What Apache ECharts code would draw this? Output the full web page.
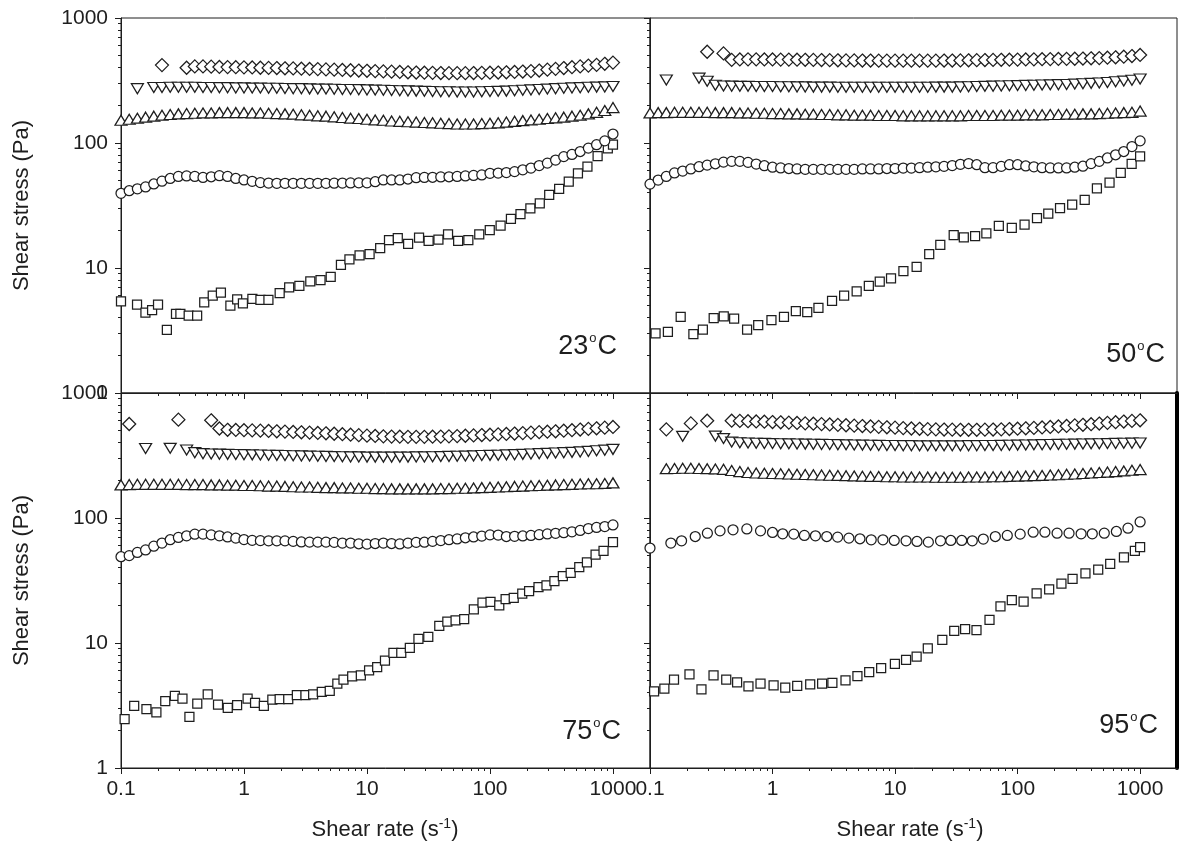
<!DOCTYPE html>
<html>
<head>
<meta charset="utf-8">
<title>Shear stress vs shear rate</title>
<script src="https://cdn.jsdelivr.net/npm/echarts@6/dist/echarts.min.js"></script>
<style>
  html, body { margin: 0; padding: 0; background: #fff; }
  #chart { width: 1182px; height: 843px; }
</style>
</head>
<body>
<div id="chart"></div>
<script>
// Shear rates of the regular sweep (15 points per decade, s^-1)
const rate = [
  0.1, 0.1166, 0.1359, 0.1585, 0.1848, 0.2154, 0.2512, 0.2929, 0.3415, 0.3981, 0.4642, 0.5412, 0.631, 0.7356, 0.8577,
  1, 1.166, 1.359, 1.585, 1.848, 2.154, 2.512, 2.929, 3.415, 3.981, 4.642, 5.412, 6.31, 7.356, 8.577,
  10, 11.66, 13.59, 15.85, 18.48, 21.54, 25.12, 29.29, 34.15, 39.81, 46.42, 54.12, 63.1, 73.56, 85.77,
  100, 116.6, 135.9, 158.5, 184.8, 215.4, 251.2, 292.9, 341.5, 398.1, 464.2, 541.2, 631, 735.6, 857.7,
  1000
];

const panelLabels = ['23', '50', '75', '95'];
const xTickLabels = [0.1, 1, 10, 100, 1000];
const yTickLabels = [1, 10, 100, 1000];
const xMinorTicks = [0.2, 0.3, 0.4, 0.5, 0.6, 0.7, 0.8, 0.9, 2, 3, 4, 5, 6, 7, 8, 9,
  20, 30, 40, 50, 60, 70, 80, 90, 200, 300, 400, 500, 600, 700, 800, 900];
const yMinorTicks = [2, 3, 4, 5, 6, 7, 8, 9, 20, 30, 40, 50, 60, 70, 80, 90,
  200, 300, 400, 500, 600, 700, 800, 900];

// ---- 23 °C (shear stress, Pa, on the regular sweep) ----
const diamond23 = [
  null, null, null, null, null, 420, null, null, 400, 410, 410, 408, 406, 405, 404,
  403, 402, 400, 399, 398, 396, 395, 393, 391, 390, 388, 386, 384, 382, 380,
  378, 376, 374, 372, 370, 368, 366, 365, 364, 363, 362, 362, 362, 363, 364,
  365, 366, 368, 370, 373, 376, 380, 386, 392, 398, 404, 410, 416, 422, 430,
  440];
const downTri23 = [
  null, null, 272, null, 278, 278, 279, 279, 279, 279, 278, 278, 277, 277, 276,
  276, 275, 275, 274, 274, 273, 272, 272, 271, 270, 270, 269, 268, 268, 267,
  266, 265, 264, 263, 262, 261, 260, 259, 258, 257, 257, 256, 256, 256, 257,
  258, 259, 260, 262, 264, 266, 268, 270, 272, 274, 276, 277, 279, 280, 281,
  283];
const upTri23 = [
  152, 155, 158, 161, 164, 167, 169, 171, 172, 173, 174, 174, 175, 175, 175,
  175, 174, 174, 173, 172, 171, 170, 168, 167, 165, 164, 162, 160, 158, 157,
  155, 153, 152, 150, 149, 148, 147, 146, 145, 144, 143, 142, 142, 142, 143,
  144, 145, 147, 149, 151, 153, 155, 157, 159, 161, 164, 167, 171, 176, 182,
  192];
const circle23 = [
  39.6, 41.5, 43, 44.5, 47, 49.5, 52, 54, 54.5, 54, 53, 53.7, 54.8, 54, 52,
  50.6, 49.4, 48.2, 47.8, 47.6, 47.6, 47.6, 47.6, 47.6, 47.6, 47.6, 47.7, 47.8, 47.9, 48,
  48, 49, 50.6, 50.6, 50.6, 51.5, 52.8, 53, 53.2, 53.5, 53.7, 54, 54.5, 55, 55.5,
  57.2, 57.5, 58, 59, 61, 63, 66, 69, 73, 77.8, 81, 85.5, 91, 97, 104,
  118];
// [shear rate, shear stress]
const square23 = [
  [0.1, 5.4], [0.135, 5.1], [0.158, 4.4], [0.179, 4.6], [0.2, 5.1], [0.236, 3.2], [0.28, 4.3],
  [0.304, 4.3], [0.355, 4.15], [0.416, 4.15], [0.475, 5.3], [0.557, 6.0], [0.649, 6.35], [0.775, 5.0],
  [0.88, 5.6], [0.98, 5.2], [1.17, 5.65], [1.36, 5.55], [1.58, 5.55], [1.95, 6.3], [2.33, 7.0],
  [2.82, 7.2], [3.46, 7.8], [4.19, 8.0], [5.07, 8.5], [6.14, 10.6], [7.2, 11.7], [8.7, 12.6],
  [10.5, 12.9], [12.8, 14.4], [15.1, 16.7], [17.8, 17.3], [21.6, 15.6], [26.5, 17.5], [31.7, 16.5],
  [38.1, 16.9], [45.6, 18.6], [55.1, 16.5], [66.7, 16.7], [81.8, 18.6], [99.6, 20.1], [122, 21.8],
  [148, 24.7], [177, 27], [213, 30], [254, 32.9], [303, 38.4], [365, 42.9], [437, 49.1],
  [519, 57.2], [620, 64.7], [750, 78.7], [908, 90.6], [1000, 97]];

// ---- 50 °C ----
const diamond50 = [
  null, null, null, null, null, null, null, 537, null, 521, 462, 466, 467, 467, 466,
  466, 465, 465, 464, 463, 462, 461, 460, 459, 458, 458, 457, 457, 456, 456,
  456, 456, 456, 456, 456, 456, 457, 457, 458, 459, 460, 461, 462, 463, 464,
  465, 466, 467, 468, 469, 470, 471, 472, 474, 476, 478, 481, 485, 490, 496,
  506];
const downTri50 = [
  null, null, 319, null, null, null, 330, 312, 290, 286, 285, 284, 284, 283, 283,
  283, 282, 282, 281, 281, 280, 280, 280, 279, 279, 279, 279, 279, 279, 279,
  279, 279, 279, 279, 279, 280, 280, 280, 281, 282, 283, 284, 285, 286, 287,
  288, 289, 290, 291, 292, 293, 294, 296, 298, 300, 302, 305, 309, 313, 318,
  325];
const upTri50 = [
  174, 175, 175, 176, 176, 176, 176, 176, 175, 175, 175, 174, 174, 173, 173,
  172, 172, 171, 171, 170, 170, 169, 169, 168, 168, 167, 167, 167, 166, 166,
  166, 165, 165, 165, 165, 165, 165, 165, 165, 166, 166, 166, 166, 167, 167,
  167, 168, 168, 168, 169, 169, 170, 170, 171, 171, 172, 173, 174, 175, 176,
  180];
const circle50 = [
  46.9, 50.5, 54, 57.6, 59.6, 62, 64.6, 66.5, 68.2, 70.3, 71.3, 71.3, 70, 67.8, 65.8,
  64, 63.2, 62.5, 62, 61.5, 61.5, 61.5, 61.5, 61.5, 61.5, 61.5, 62, 62, 62, 62.5,
  62.5, 63, 63, 63.5, 64, 64.5, 65, 66, 67.5, 68.5, 67, 63.5, 63.5, 65, 67,
  67, 65.5, 64.5, 63.5, 63.2, 63.2, 63.2, 64, 65.2, 68.4, 71.3, 75.9, 80.5, 85.5, 93.6,
  104];
const square50 = [
  [0.111, 3.0], [0.14, 3.09], [0.178, 4.06], [0.226, 2.96], [0.27, 3.22], [0.331, 3.98], [0.4, 4.1],
  [0.486, 3.93], [0.62, 3.22], [0.764, 3.49], [0.98, 3.82], [1.24, 4.06], [1.55, 4.52], [1.92, 4.44],
  [2.37, 4.8], [3.06, 5.47], [3.84, 6.0], [4.86, 6.49], [6.11, 7.19], [7.5, 7.79], [9.27, 8.26],
  [11.7, 9.45], [15, 10.2], [19, 12.9], [23.4, 15.3], [30.1, 18.3], [36.4, 17.6], [45, 18],
  [55.6, 18.9], [70.3, 21.7], [89.7, 20.9], [114, 22.2], [144, 25.1], [178, 27.2], [222, 30.1],
  [279, 32.2], [353, 35], [444, 43.3], [563, 48.2], [695, 57.8], [853, 68.1], [1000, 78.1]];

// ---- 75 °C ----
const diamond75 = [
  null, 565, null, null, null, null, null, 612, null, null, null, 605, 520, 508, 506,
  504, 502, 500, 497, 494, 491, 488, 485, 482, 479, 476, 472, 468, 464, 460,
  456, 453, 450, 448, 447, 446, 446, 446, 447, 448, 450, 452, 455, 458, 461,
  464, 467, 470, 474, 478, 482, 486, 490, 494, 499, 504, 510, 516, 522, 528,
  535];
const downTri75 = [
  null, null, null, 360, null, null, 361, null, 350, 333, 327, 325, 324, 323, 322,
  321, 320, 319, 318, 317, 316, 315, 314, 313, 312, 311, 310, 309, 308, 308,
  307, 307, 307, 307, 307, 307, 308, 308, 309, 310, 311, 312, 313, 314, 316,
  317, 318, 320, 321, 323, 325, 327, 329, 331, 333, 335, 338, 341, 345, 349,
  354];
const upTri75 = [
  184, 185, 186, 186, 186, 186, 186, 186, 185, 185, 185, 184, 184, 183, 183,
  182, 182, 181, 180, 180, 179, 178, 177, 177, 176, 175, 175, 174, 174, 173,
  173, 172, 172, 171, 171, 171, 171, 171, 171, 172, 172, 173, 173, 174, 175,
  176, 177, 178, 179, 180, 181, 182, 183, 184, 185, 186, 187, 188, 188, 189,
  191];
const circle75 = [
  49, 50, 53, 55.5, 59.5, 63, 67, 69.9, 72, 74.2, 74.3, 73.3, 72, 70.5, 69,
  67.2, 66.2, 65.9, 65.7, 65.7, 65.6, 65, 64.3, 64.1, 64.1, 64.1, 63.8, 63, 63, 62.2,
  61.8, 62.5, 63, 62.5, 62, 63, 63.8, 64, 65, 66, 67, 68, 69.5, 70.5, 71.7,
  73.3, 73, 71.1, 71.4, 71.8, 72.5, 73.5, 74.6, 75.4, 76.3, 77.5, 79.5, 82.3, 84, 85.4,
  88];
const square75 = [
  [0.107, 2.46], [0.128, 3.14], [0.161, 2.96], [0.194, 2.78], [0.229, 3.42], [0.274, 3.77],
  [0.316, 3.59], [0.36, 2.57], [0.417, 3.28], [0.507, 3.89], [0.615, 3.22], [0.738, 3.03],
  [0.879, 3.18], [1.07, 3.59], [1.23, 3.32], [1.45, 3.14], [1.7, 3.53], [1.95, 3.55], [2.29, 3.55],
  [2.69, 3.82], [3.16, 3.82], [3.65, 3.89], [4.29, 4.06], [4.98, 4.14], [5.74, 4.73], [6.44, 5.09],
  [7.58, 5.41], [8.91, 5.51], [10.4, 6.03], [12.1, 6.41], [14, 7.24], [16.4, 8.33], [19, 8.33],
  [22.3, 9.13], [26.2, 10.8], [31.5, 11.2], [38.7, 13.7], [45, 14.8], [52.5, 15.2], [61.7, 15.5],
  [73.9, 18.6], [86.9, 21], [101, 21.3], [119, 20], [134, 22.4], [156, 23], [183, 24.8], [208, 26],
  [248, 28], [288, 28.9], [334, 31.3], [391, 34.2], [453, 36.4], [532, 40.4], [614, 44.2],
  [722, 50.9], [838, 54.7], [1000, 64.1]];

// ---- 95 °C ----
const diamond95 = [
  null, null, 512, null, null, 571, null, 600, null, null, 600, 598, 595, 592, 589,
  586, 583, 580, 576, 572, 568, 564, 560, 556, 552, 548, 544, 540, 536, 532,
  528, 524, 520, 517, 514, 512, 510, 509, 508, 508, 508, 509, 510, 512, 515,
  518, 522, 526, 530, 535, 540, 545, 551, 557, 563, 570, 577, 584, 591, 598,
  605];
const downTri95 = [
  null, null, null, null, 450, null, null, null, 452, 432, 405, 400, 398, 396, 395,
  394, 393, 392, 391, 390, 389, 388, 387, 386, 385, 384, 383, 382, 381, 380,
  380, 379, 379, 378, 378, 378, 378, 378, 378, 379, 379, 380, 380, 381, 382,
  383, 384, 385, 386, 387, 388, 389, 390, 391, 392, 393, 394, 395, 396, 397,
  398];
const upTri95 = [
  null, null, 248, 249, 250, 250, 249, 248, 247, 245, 240, 235, 231, 229, 228,
  227, 226, 225, 224, 223, 222, 221, 220, 219, 218, 217, 216, 215, 215, 214,
  214, 213, 213, 213, 213, 212, 212, 212, 212, 213, 213, 213, 214, 214, 215,
  216, 217, 218, 219, 221, 222, 224, 225, 227, 229, 231, 233, 235, 238, 241,
  244];
const circle95 = [
  [0.1, 57.5], [0.148, 63], [0.181, 65.7], [0.234, 71.1], [0.294, 75.6], [0.373, 78.9],
  [0.476, 80.4], [0.617, 81.8], [0.798, 78.9], [1.0, 76.6], [1.21, 74.7], [1.49, 74.3],
  [1.82, 72.5], [2.24, 72], [2.77, 71.1], [3.4, 70.3], [4.2, 69], [5.17, 68.2], [6.39, 66.9],
  [7.96, 66.9], [9.85, 66.1], [12.3, 65.7], [15.1, 64.9], [18.7, 64.1], [23.5, 65.7], [28.5, 66.1],
  [35, 66.1], [42.7, 65.7], [52.5, 67.8], [65.8, 71.1], [82.4, 72.5], [105, 74.3], [134, 77],
  [167, 77], [210, 75.6], [263, 75.6], [330, 74.7], [407, 74.7], [510, 75.6], [640, 78],
  [796, 82.9], [1000, 93]];
const square95 = [
  [0.108, 4.11], [0.131, 4.32], [0.157, 5.09], [0.21, 5.61], [0.263, 4.26], [0.33, 5.51],
  [0.419, 5.09], [0.514, 4.84], [0.636, 4.5], [0.798, 4.73], [1.02, 4.59], [1.27, 4.39],
  [1.59, 4.53], [2.03, 4.67], [2.54, 4.73], [3.08, 4.79], [3.94, 5.02], [4.93, 5.44], [6.15, 5.85],
  [7.7, 6.3], [9.97, 6.81], [12.3, 7.33], [15, 7.79], [18.5, 9.07], [24.3, 10.6], [30.4, 12.5],
  [37.3, 12.9], [46.2, 12.7], [59, 15.3], [72.5, 19.6], [89.7, 22], [112, 21.4], [143, 24.9],
  [181, 26.9], [228, 29.8], [281, 32.6], [358, 36], [455, 38.7], [570, 42.9], [738, 48.5],
  [906, 54.7], [1000, 58.5]];

// ---------------------------------------------------------------------------
const FONT = '"Liberation Sans", Arial, Helvetica, sans-serif';
const INK = '#1e1e1e';

// Plot rectangles of the 2 x 2 panel layout
const boxes = [
  { left: 121, top: 18, width: 529, height: 375 },
  { left: 650, top: 18, width: 527, height: 375 },
  { left: 121, top: 393, width: 529, height: 375 },
  { left: 650, top: 393, width: 527, height: 375 }
];

// Regular-sweep arrays -> [x, y] pairs (gaps skipped)
function onSweep(vals) {
  const out = [];
  vals.forEach((v, i) => { if (v != null) out.push([rate[i], v]); });
  return out;
}

const panelData = [
  { diamond: onSweep(diamond23), down: onSweep(downTri23), up: onSweep(upTri23), circle: onSweep(circle23), square: square23 },
  { diamond: onSweep(diamond50), down: onSweep(downTri50), up: onSweep(upTri50), circle: onSweep(circle50), square: square50 },
  { diamond: onSweep(diamond75), down: onSweep(downTri75), up: onSweep(upTri75), circle: onSweep(circle75), square: square75 },
  { diamond: onSweep(diamond95), down: onSweep(downTri95), up: onSweep(upTri95), circle: circle95, square: square95 }
];

const markers = {
  square:  { symbol: 'rect', size: 9, rotate: 0 },
  circle:  { symbol: 'circle', size: 10, rotate: 0 },
  up:      { symbol: 'triangle', size: [12, 10], rotate: 0 },
  down:    { symbol: 'triangle', size: [12, 10], rotate: 180 },
  diamond: { symbol: 'diamond', size: [13, 13], rotate: 0 }
};
const drawOrder = ['square', 'circle', 'up', 'down', 'diamond'];

const fmt = v => String(Number(Number(v).toPrecision(6)));

const grid = [], xAxis = [], yAxis = [], series = [];
boxes.forEach((b, g) => {
  grid.push(Object.assign({ show: true, borderColor: INK, borderWidth: 1, backgroundColor: 'transparent' }, b));
  const bottomRow = g >= 2, leftCol = g % 2 === 0;
  const lineStyle = { color: INK, width: 1 };
  // major x axis
  xAxis.push({
    type: 'log', logBase: 10, gridIndex: g, min: 0.1, max: 2000, position: 'bottom',
    axisLine: { show: true, onZero: false, lineStyle },
    axisTick: { show: true, length: 6, customValues: xTickLabels, lineStyle },
    axisLabel: { show: bottomRow, customValues: xTickLabels, formatter: fmt,
                 fontFamily: FONT, fontSize: 21, color: INK, margin: 11 },
    splitLine: { show: false }
  });
  // minor x ticks (same bottom edge)
  xAxis.push({
    type: 'log', logBase: 10, gridIndex: g, min: 0.1, max: 2000, position: 'bottom',
    axisLine: { show: false, onZero: false },
    axisTick: { show: true, length: 3, customValues: xMinorTicks, lineStyle },
    axisLabel: { show: false },
    splitLine: { show: false }
  });
  // major y axis
  yAxis.push({
    type: 'log', logBase: 10, gridIndex: g, min: 1, max: 1000, position: 'left',
    axisLine: { show: true, onZero: false, lineStyle },
    axisTick: { show: true, length: 6, customValues: yTickLabels, lineStyle },
    axisLabel: { show: leftCol, customValues: yTickLabels, formatter: fmt,
                 fontFamily: FONT, fontSize: 21, color: INK, margin: 13 },
    splitLine: { show: false }
  });
  // minor y ticks (same left edge)
  yAxis.push({
    type: 'log', logBase: 10, gridIndex: g, min: 1, max: 1000, position: 'left',
    axisLine: { show: false, onZero: false },
    axisTick: { show: true, length: 3, customValues: yMinorTicks, lineStyle },
    axisLabel: { show: false },
    splitLine: { show: false }
  });

  drawOrder.forEach(kind => {
    const m = markers[kind];
    series.push({
      type: 'scatter', xAxisIndex: 2 * g, yAxisIndex: 2 * g,
      data: panelData[g][kind],
      symbol: m.symbol, symbolSize: m.size, symbolRotate: m.rotate,
      itemStyle: { color: '#ffffff', borderColor: INK, borderWidth: 1.25, opacity: 1 },
      silent: true, clip: false, animation: false
    });
  });
});

// Heavier right frame edge on the lower-right panel
yAxis.push({
  type: 'log', logBase: 10, gridIndex: 3, min: 1, max: 1000, position: 'right',
  axisLine: { show: true, onZero: false, lineStyle: { color: '#000', width: 4 } },
  axisTick: { show: false }, axisLabel: { show: false }, splitLine: { show: false }
});

// Titles and temperature tags
const tagPos = [[617, 347], [1165, 355], [621, 732], [1158, 726]];
const graphic = [];
tagPos.forEach((p, g) => {
  graphic.push({
    type: 'text', x: p[0], y: p[1], silent: true,
    style: {
      text: '{n|' + panelLabels[g] + '}{d|o}{n|C}',
      align: 'right', verticalAlign: 'middle', fill: INK,
      rich: {
        n: { fontFamily: FONT, fontSize: 27, fill: INK, lineHeight: 30 },
        d: { fontFamily: FONT, fontSize: 13, fill: INK, lineHeight: 30, verticalAlign: 'top', padding: [0, 1, 14, 1] }
      }
    }
  });
});
[205.5, 580.5].forEach(cy => {
  graphic.push({
    type: 'text', x: 22, y: cy, rotation: Math.PI / 2, silent: true,
    style: { text: 'Shear stress (Pa)', font: '22px ' + FONT, fill: INK, align: 'center', verticalAlign: 'middle' }
  });
});
[385, 910].forEach(cx => {
  graphic.push({
    type: 'text', x: cx, y: 830, silent: true,
    style: {
      text: '{t|Shear rate (s}{s|-1}{t|)}', align: 'center', verticalAlign: 'middle', fill: INK,
      rich: {
        t: { fontFamily: FONT, fontSize: 22, fill: INK, lineHeight: 26 },
        s: { fontFamily: FONT, fontSize: 14, fill: INK, lineHeight: 26, verticalAlign: 'top', padding: [0, 0, 10, 0] }
      }
    }
  });
});

const chart = echarts.init(document.getElementById('chart'), null, { renderer: 'canvas' });
chart.setOption({
  backgroundColor: '#ffffff',
  animation: false,
  textStyle: { fontFamily: FONT },
  grid, xAxis, yAxis, series, graphic
});
</script>
</body>
</html>
